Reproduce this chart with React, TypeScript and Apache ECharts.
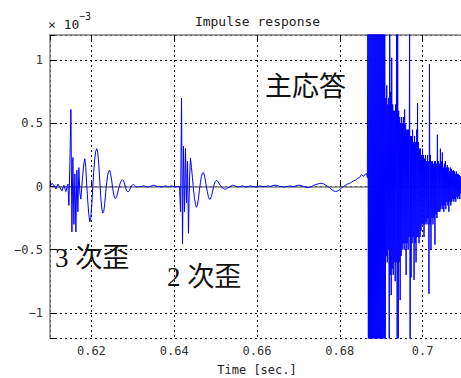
import React, { useEffect, useRef } from 'react';
import * as echarts from 'echarts';

// sample spacing (seconds) of the hand-read waveform
const dt = 0.00024;

// quiet start, read every 2 samples
const preNoise = [0.0, 0.025, 0.01, -0.02, 0.02, -0.01, -0.035, 0.01, -0.04];
// 3rd-order distortion burst
const burst3rd = [
  0.02, -0.15, 0.2, 0.61, -0.36, 0.23, -0.3, 0.1, -0.36, 0.13, -0.2, 0.15, -0.05, -0.1, 0.0, 0.1,
  0.18, 0.22, 0.15, 0.0, -0.12, -0.22, -0.28, -0.25, -0.15, 0.0, 0.12, 0.22, 0.28, 0.3, 0.27, 0.18,
  0.05, -0.08, -0.17, -0.21, -0.2, -0.14, -0.05, 0.03, 0.09, 0.12, 0.13, 0.1, 0.05, -0.01, -0.06,
  -0.09, -0.095, -0.08, -0.05, -0.02, 0.01, 0.035, 0.05, 0.053, 0.045, 0.02, -0.01, -0.03, -0.04,
  -0.04, -0.03, -0.01, 0.005, 0.013, 0.015, 0.01, 0.003, -0.005, -0.005, 0.0, 0.0,
];
// quiet gap, read every 2 samples
const quiet1 = [0.0, 0.005, 0.0, -0.005, 0.0, 0.005, 0.01, 0.005, 0.0, 0.0, -0.005, 0.0, 0.005, 0.0, 0.0, 0.005, 0.0, -0.005, 0.0];
// 2nd-order distortion burst
const burst2nd = [
  0.0, -0.2, 0.7, -0.455, 0.32, -0.2, 0.3, -0.13, 0.2, -0.37, 0.05, 0.225, 0.15, 0.07, -0.02, -0.09,
  -0.14, -0.165, -0.15, -0.1, -0.03, 0.03, 0.08, 0.105, 0.11, 0.09, 0.05, 0.0, -0.04, -0.08, -0.1,
  -0.1, -0.08, -0.05, -0.01, 0.02, 0.04, 0.048, 0.045, 0.035, 0.02, 0.01, 0.0, -0.01, -0.015, -0.02,
  -0.02, -0.02, -0.015, -0.01, -0.005, 0.0, 0.005, 0.01, 0.01, 0.008, 0.005, 0.0, 0.0, -0.005, 0.0,
];
// quiet gap before the main response, read every 2 samples
const quiet2 = [
  0.0, 0.005, 0.0, -0.005, 0.0, 0.005, 0.0, 0.0, -0.005, 0.0, 0.005, 0.0, 0.0, 0.0, 0.005, 0.0,
  0.005, 0.01, 0.01, 0.005, 0.0, 0.0, -0.005, 0.0, 0.0, 0.005, 0.0, 0.0, 0.005, 0.01, 0.01, 0.005,
  0.0, -0.005, -0.01, -0.005, 0.0, 0.01, 0.015, 0.02, 0.025, 0.025, 0.02, 0.01, 0.0, -0.01, -0.025,
  -0.035, -0.04, -0.035, -0.025, -0.01, 0.0, 0.01, 0.02, 0.025, 0.035, 0.045, 0.05, 0.065, 0.07,
  0.095, 0.08, 0.1,
];
// main response, read every half sample (high / low pairs)
const mainBurst = [
  0.1, 0.07,
  1.5, -1.5, 1.5, -1.5, 1.5, -1.5, 1.5, -1.5, 1.5, -1.5, 1.5, -1.5, 1.5, -1.5, 1.5, -1.5,
  1.5, -1.5, 1.5, -1.5, 1.5, -1.5, 1.5, -1.5, 1.5, -1.5, 1.5, -1.5, 1.5, -1.5, 1.5, -1.5,
  1.5, -1.5, 1.5, -1.5,
  0.7, -0.55, 0.8, -0.6, 0.65, -0.5, 0.7, -1.5, 1.5, -0.7, 0.75, -0.86, 1.02, -0.65, 0.65, -0.7,
  0.6, -0.6, 0.6, -0.75, 0.65, -0.6, 1.5, -1.5, 1.5, -1.5, 0.6, -0.6, 0.55, -0.9, 0.5, -0.55,
  0.55, -0.5, 0.5, -0.45, 0.55, -0.5, 0.61, -0.45, 0.5, -0.7, 0.45, -0.45, 0.45, -0.5, 0.45, -0.4,
  1.5, -1.5, 0.4, -0.72, 0.4, -0.45, 0.45, -0.4, 0.35, -0.74, 0.4, -0.45, 0.35, -0.6, 0.45, -0.4,
  0.66, -0.4, 0.35, -0.45, 0.3, -0.4, 0.3, -0.35, 0.25, -0.3, 0.3, -0.3, 0.25, -0.4, 0.22, -0.3,
  0.25, -0.28, 0.2, -0.3, 0.25, -0.25, 0.2, -0.85, 0.97, -0.3, 0.25, -0.5, 0.2, -0.25, 0.2, -0.3,
  0.18, -0.25, 0.2, -0.46, 0.2, -0.22, 0.18, -0.25, 0.41, -0.2, 0.2, -0.2, 0.18, -0.2, 0.3, -0.18,
  0.2, -0.15, 0.27, -0.18, 0.15, -0.2, 0.18, -0.15, 0.2, -0.18, 0.15, -0.12, 0.17, -0.15, 0.15, -0.2,
  0.12, -0.12, 0.15, -0.15, 0.14, -0.12, 0.12, -0.1, 0.13, -0.12, 0.12, -0.1, 0.1, -0.12, 0.12, -0.08,
  0.1, -0.1, 0.1, -0.08, 0.09, -0.1, 0.08, -0.06,
];

const segments = [
  { start: 0.61, stride: 2, values: preNoise },
  { start: 0.61433, stride: 1, values: burst3rd },
  { start: 0.63214, stride: 2, values: quiet1 },
  { start: 0.64129, stride: 1, values: burst2nd },
  { start: 0.65597, stride: 2, values: quiet2 },
  { start: 0.68654, stride: 0.5, values: mainBurst },
];

const xTicks = [0.62, 0.64, 0.66, 0.68, 0.7];
const xTickLabels = ['0.62', '0.64', '0.66', '0.68', '0.7'];
const yTicks = [-1, -0.5, 0, 0.5, 1];
const yTickLabels = ['\u22121', '\u22120.5', '0', '0.5', '1'];

const annotations = [
  { text: '主応答', x: 265, y: 87 },
  { text: '3 次歪', x: 55, y: 258 },
  { text: '2 次歪', x: 167, y: 277 },
];

const MONO = '"DejaVu Sans Mono", monospace';
const SERIF = '"Liberation Serif", "Noto Sans CJK JP", serif';

function labelFor(v: number, ticks: number[], labels: string[]) {
  const i = ticks.findIndex((t) => Math.abs(t - v) < 1e-9);
  return i >= 0 ? labels[i] : '';
}

export default function App() {
  const ref = useRef<HTMLDivElement>(null);
  useEffect(() => {
    if (!ref.current) return;
    const chart = echarts.init(ref.current, null, { renderer: 'svg' });
    const data = segments.flatMap((s) => s.values.map((v, i) => [s.start + i * s.stride * dt, v]));
    const axisLine = { show: true, lineStyle: { color: '#808080', width: 1.5 } };
    const tick = { show: true, inside: true, length: 5, lineStyle: { color: '#000', width: 1 } };
    const split = { show: true, lineStyle: { color: '#000', type: [2, 3], width: 1 } };
    chart.setOption({
      animation: false,
      backgroundColor: '#fff',
      grid: { left: 50, right: -3, top: 35, bottom: 40, containLabel: false, outerBoundsMode: 'none' },
      xAxis: [
        {
          type: 'value', min: 0.61, max: 0.71, splitNumber: 5, position: 'bottom',
          axisLine, axisTick: tick, splitLine: split,
          axisLabel: {
            margin: 7, color: '#333', fontSize: 12, fontFamily: MONO,
            formatter: (v: number) => labelFor(v, xTicks, xTickLabels),
          },
          name: 'Time [sec.]', nameLocation: 'middle', nameGap: 26,
          nameTextStyle: { color: '#222', fontSize: 12, fontFamily: MONO },
        },
        {
          type: 'value', min: 0.61, max: 0.71, splitNumber: 5, position: 'top',
          axisLine, axisTick: tick, splitLine: { show: false }, axisLabel: { show: false },
        },
      ],
      yAxis: {
        type: 'value', min: -1.2, max: 1.2, splitNumber: 5,
        axisLine, axisTick: tick, splitLine: split,
        axisLabel: {
          margin: 7, color: '#333', fontSize: 12, fontFamily: MONO,
          formatter: (v: number) => labelFor(v, yTicks, yTickLabels),
        },
      },
      series: [
        {
          type: 'line', data, showSymbol: false, symbol: 'none', clip: true,
          lineStyle: { color: '#0000ff', width: 1 }, itemStyle: { color: '#0000ff' },
        },
      ],
      graphic: [
        { type: 'text', x: 257.5, y: 21, style: { text: 'Impulse response', font: `13px ${MONO}`, fill: '#222', align: 'center', verticalAlign: 'middle' } },
        { type: 'text', x: 48, y: 24, style: { text: '× 10', font: `13px ${MONO}`, fill: '#222', align: 'left', verticalAlign: 'middle' } },
        { type: 'text', x: 79, y: 16, style: { text: '\u22123', font: `10px ${MONO}`, fill: '#222', align: 'left', verticalAlign: 'middle' } },
        ...annotations.map((a) => ({
          type: 'text', x: a.x, y: a.y, z: 10,
          style: { text: a.text, font: `27px ${SERIF}`, fill: '#111', align: 'left', verticalAlign: 'middle' },
        })),
      ],
    });
    return () => chart.dispose();
  }, []);
  return <div ref={ref} style={{ position: 'fixed', left: 0, top: 0, width: 461, height: 378 }} />;
}
